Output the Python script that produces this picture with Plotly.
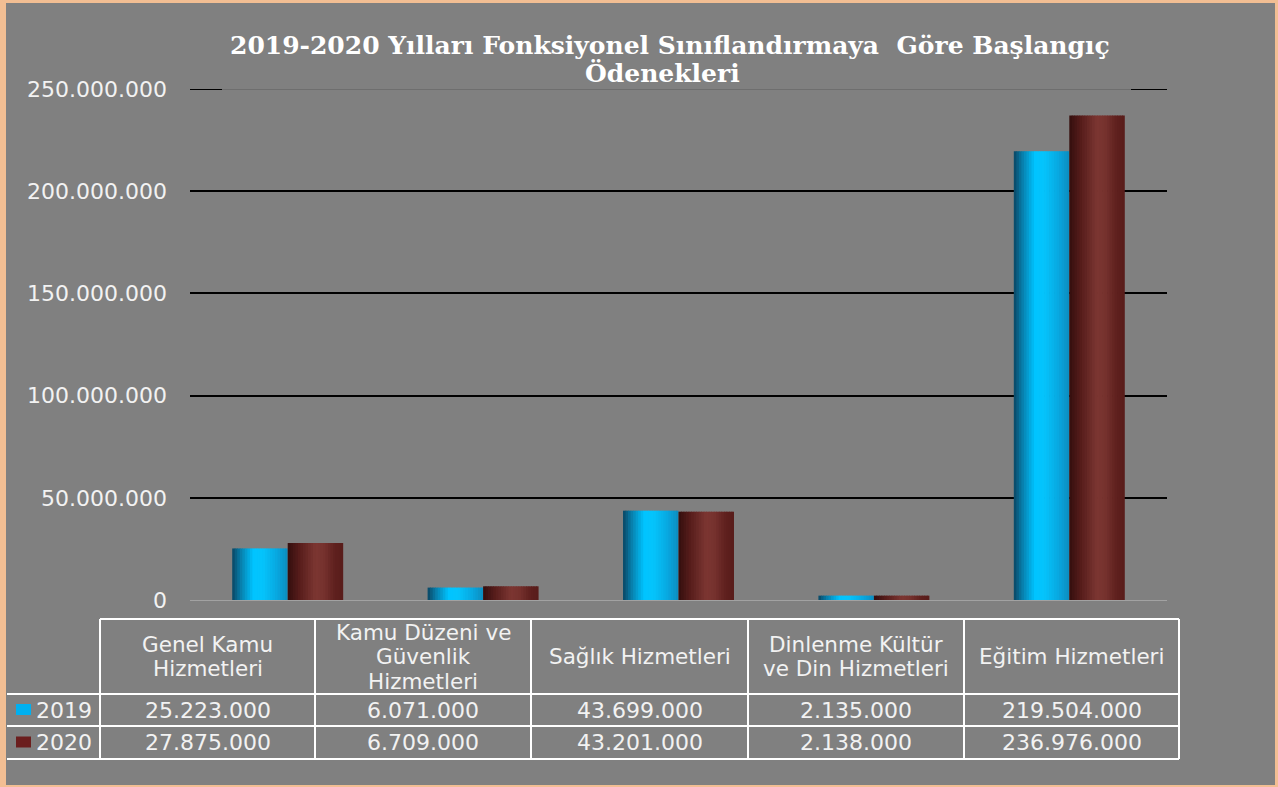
import plotly.graph_objects as go

# ---------------- data ----------------
categories = ["Genel Kamu Hizmetleri", "Kamu Düzeni ve Güvenlik Hizmetleri",
              "Sağlık Hizmetleri", "Dinlenme Kültür ve Din Hizmetleri", "Eğitim Hizmetleri"]
header_lines = [["Genel Kamu", "Hizmetleri"],
                ["Kamu Düzeni ve", "Güvenlik", "Hizmetleri"],
                ["Sağlık Hizmetleri"],
                ["Dinlenme Kültür", "ve Din Hizmetleri"],
                ["Eğitim Hizmetleri"]]
years = ["2019", "2020"]
v2019 = [25223000, 6071000, 43699000, 2135000, 219504000]
v2020 = [27875000, 6709000, 43201000, 2138000, 236976000]
ytick_vals = [0, 50000000, 100000000, 150000000, 200000000, 250000000]
ytick_text = ["0", "50.000.000", "100.000.000", "150.000.000", "200.000.000", "250.000.000"]
title_line1 = "2019-2020 Yılları Fonksiyonel Sınıflandırmaya  Göre Başlangıç"
title_line2 = "Ödenekleri"

# ---------------- style ----------------
W, H = 1278, 787
L, R, T, B = 190, 1167, 89, 600
BG = "#808080"
BORDER = "#F2BE93"
TXT = "#F2F2F2"
SANS = "DejaVu Sans, Verdana, sans-serif"
SERIF = "DejaVu Serif, Liberation Serif, serif"

cyan_stops = [(0.0, (10, 70, 98)), (0.15, (8, 125, 170)), (0.38, (0, 196, 255)),
              (0.55, (5, 196, 252)), (0.8, (8, 168, 225)), (1.0, (12, 140, 190))]
red_stops = [(0.0, (52, 14, 14)), (0.2, (85, 28, 26)), (0.5, (124, 54, 50)),
             (0.65, (118, 50, 46)), (0.85, (95, 32, 30)), (1.0, (88, 28, 27))]
series_colors_solid = ["#00B0F0", "#6B1E1E"]


def interp(stops, t):
    for (p0, c0), (p1, c1) in zip(stops, stops[1:]):
        if p0 <= t <= p1:
            f = (t - p0) / (p1 - p0)
            return "rgb(%d,%d,%d)" % tuple(round(a + (b - a) * f) for a, b in zip(c0, c1))
    return "rgb(%d,%d,%d)" % stops[-1][1]


def px2x(px):
    return (px - L) / (R - L)


def py2y(py):
    return (B - py) / (B - T)


def fmt(v):
    return f"{v:,}".replace(",", ".")


fig = go.Figure()

BAR_W = 0.284
N = 22
xs = list(range(len(categories)))
for vals, stops, base in [(v2019, cyan_stops, -BAR_W), (v2020, red_stops, 0.0)]:
    sw = BAR_W / N
    for i in range(N):
        w = sw * 1.3 if i < N - 1 else sw
        fig.add_trace(go.Bar(
            x=xs, y=vals, offset=base + i * sw, width=w,
            marker=dict(color=interp(stops, (i + 0.5) / N), line=dict(width=0)),
            showlegend=False, hoverinfo="skip"))

fig.update_layout(
    width=W, height=H, barmode="overlay",
    margin=dict(l=L, r=W - R, t=T, b=H - B, pad=0),
    paper_bgcolor=BORDER, plot_bgcolor="rgba(0,0,0,0)",
    xaxis=dict(range=[-0.5, len(categories) - 0.5], showgrid=False, zeroline=False,
               showticklabels=False, showline=False, ticks=""),
    yaxis=dict(range=[0, 250000000], tickvals=ytick_vals, ticktext=ytick_text,
               showgrid=True, gridcolor="#000000", gridwidth=2,
               zeroline=True, zerolinecolor="#A2A2A2", zerolinewidth=1,
               showline=False, ticks="", ticklabelstandoff=22,
               tickfont=dict(family=SANS, size=22, color=TXT)),
)

shapes = []
# gray page area inside the peach border
shapes.append(dict(type="rect", xref="paper", yref="paper", layer="below",
                   x0=px2x(6), x1=px2x(1275), y0=py2y(785), y1=py2y(3),
                   fillcolor=BG, line=dict(width=0)))
# top gridline: mostly hidden by the title box, black stubs at both ends
shapes.append(dict(type="line", xref="paper", yref="y", x0=px2x(190), x1=px2x(1167),
                   y0=250000000, y1=250000000, line=dict(color="#000000", width=2)))
shapes.append(dict(type="line", xref="paper", yref="y", x0=px2x(222), x1=px2x(1131),
                   y0=250000000, y1=250000000, line=dict(color=BG, width=4)))
shapes.append(dict(type="line", xref="paper", yref="y", x0=px2x(222), x1=px2x(1131),
                   y0=250000000, y1=250000000, line=dict(color="#5C5C5C", width=1)))

# data table
col_x = [100, 315, 531, 748, 964, 1179]
row_y = [619, 694, 726, 759]
LINE = dict(color="#FFFFFF", width=2)
shapes.append(dict(type="line", xref="paper", yref="paper", x0=px2x(100), x1=px2x(1179),
                   y0=py2y(row_y[0]), y1=py2y(row_y[0]), line=LINE))
for yy in row_y[1:]:
    shapes.append(dict(type="line", xref="paper", yref="paper", x0=px2x(7), x1=px2x(1179),
                       y0=py2y(yy), y1=py2y(yy), line=LINE))
for xx in col_x:
    shapes.append(dict(type="line", xref="paper", yref="paper", x0=px2x(xx), x1=px2x(xx),
                       y0=py2y(row_y[0]), y1=py2y(row_y[-1]), line=LINE))

annotations = []
annotations.append(dict(text="<b>%s</b>" % title_line1, xref="paper", yref="paper",
                        x=px2x(670), y=py2y(45), xanchor="center", yanchor="middle",
                        showarrow=False, font=dict(family=SERIF, size=25, color="#FFFFFF")))
annotations.append(dict(text="<b>%s</b>" % title_line2, xref="paper", yref="paper",
                        x=px2x(662), y=py2y(74), xanchor="center", yanchor="middle",
                        showarrow=False, font=dict(family=SERIF, size=25, color="#FFFFFF")))

LINE_H = 24.5
for j, lines in enumerate(header_lines):
    cx = (col_x[j] + col_x[j + 1]) / 2
    cy = (row_y[0] + row_y[1]) / 2
    n = len(lines)
    for k, t in enumerate(lines):
        yy = cy + (k - (n - 1) / 2) * LINE_H
        annotations.append(dict(text=t, xref="paper", yref="paper", x=px2x(cx), y=py2y(yy),
                                xanchor="center", yanchor="middle", showarrow=False,
                                font=dict(family=SANS, size=21.5, color=TXT)))

for r, (yr, vals) in enumerate(zip(years, [v2019, v2020])):
    cy = (row_y[r + 1] + row_y[r + 2]) / 2
    shapes.append(dict(type="rect", xref="paper", yref="paper",
                       x0=px2x(16), x1=px2x(31), y0=py2y(cy + 5), y1=py2y(cy - 6),
                       fillcolor=series_colors_solid[r], line=dict(width=0)))
    annotations.append(dict(text=yr, xref="paper", yref="paper", x=px2x(94), y=py2y(cy),
                            xanchor="right", yanchor="middle", showarrow=False,
                            font=dict(family=SANS, size=22, color=TXT)))
    for j, v in enumerate(vals):
        cx = (col_x[j] + col_x[j + 1]) / 2
        annotations.append(dict(text=fmt(v), xref="paper", yref="paper", x=px2x(cx), y=py2y(cy),
                                xanchor="center", yanchor="middle", showarrow=False,
                                font=dict(family=SANS, size=22, color=TXT)))

fig.update_layout(shapes=shapes, annotations=annotations)
fig.write_html("out.html", config={"displayModeBar": False},
               post_script="document.body.style.margin='0';document.body.style.overflow='hidden';")
